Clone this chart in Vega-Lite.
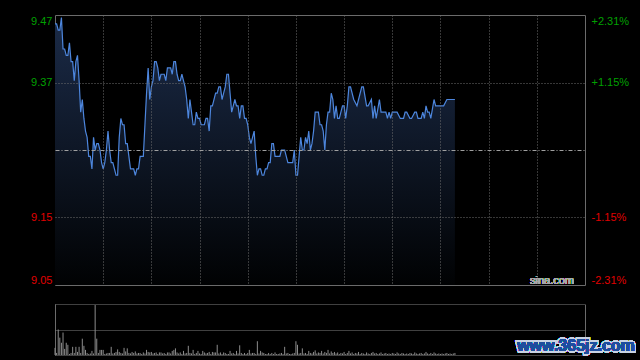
{
  "$schema": "https://vega.github.io/schema/vega-lite/v6.json",
  "background": "#000000",
  "padding": {"left": 14, "top": 14, "right": 6, "bottom": 5},
  "config": {"view": {"stroke": null}, "font": "Liberation Sans"},
  "spacing": 17,
  "datasets": {
    "price": [
      {"t":0,"p":9.46},{"t":1,"p":9.46},{"t":2,"p":9.45},{"t":3,"p":9.45},{"t":4,"p":9.47},{"t":5,"p":9.42},{"t":6,"p":9.42},{"t":7,"p":9.41},{"t":8,"p":9.41},{"t":9,"p":9.43},
      {"t":10,"p":9.40},{"t":11,"p":9.40},{"t":12,"p":9.37},{"t":13,"p":9.40},{"t":14,"p":9.41},{"t":15,"p":9.37},{"t":16,"p":9.32},{"t":17,"p":9.34},{"t":18,"p":9.31},{"t":19,"p":9.29},
      {"t":20,"p":9.28},{"t":21,"p":9.25},{"t":22,"p":9.25},{"t":23,"p":9.23},{"t":24,"p":9.28},{"t":25,"p":9.26},{"t":26,"p":9.27},{"t":27,"p":9.27},{"t":28,"p":9.26},{"t":29,"p":9.24},
      {"t":30,"p":9.23},{"t":31,"p":9.24},{"t":32,"p":9.26},{"t":33,"p":9.29},{"t":34,"p":9.26},{"t":35,"p":9.24},{"t":36,"p":9.24},{"t":37,"p":9.23},{"t":38,"p":9.22},{"t":39,"p":9.22},
      {"t":40,"p":9.28},{"t":41,"p":9.31},{"t":42,"p":9.30},{"t":43,"p":9.30},{"t":44,"p":9.27},{"t":45,"p":9.27},{"t":46,"p":9.25},{"t":47,"p":9.23},{"t":48,"p":9.23},{"t":49,"p":9.23},
      {"t":50,"p":9.22},{"t":51,"p":9.23},{"t":52,"p":9.23},{"t":53,"p":9.25},{"t":55,"p":9.25},{"t":56,"p":9.30},{"t":57,"p":9.35},{"t":58,"p":9.39},{"t":59,"p":9.34},
      {"t":60,"p":9.36},{"t":61,"p":9.37},{"t":62,"p":9.40},{"t":63,"p":9.40},{"t":64,"p":9.39},{"t":65,"p":9.37},{"t":66,"p":9.38},{"t":68,"p":9.38},{"t":69,"p":9.37},
      {"t":70,"p":9.39},{"t":72,"p":9.39},{"t":73,"p":9.38},{"t":74,"p":9.40},{"t":75,"p":9.40},{"t":76,"p":9.38},{"t":77,"p":9.37},{"t":78,"p":9.37},{"t":79,"p":9.38},
      {"t":80,"p":9.37},{"t":81,"p":9.36},{"t":82,"p":9.34},{"t":83,"p":9.31},{"t":84,"p":9.34},{"t":85,"p":9.32},{"t":86,"p":9.30},{"t":87,"p":9.30},{"t":88,"p":9.32},{"t":89,"p":9.31},
      {"t":90,"p":9.31},{"t":91,"p":9.30},{"t":93,"p":9.30},{"t":94,"p":9.31},{"t":95,"p":9.31},{"t":96,"p":9.29},{"t":97,"p":9.33},{"t":98,"p":9.33},
      {"t":100,"p":9.35},{"t":101,"p":9.35},{"t":102,"p":9.36},{"t":103,"p":9.36},{"t":104,"p":9.34},{"t":105,"p":9.35},{"t":106,"p":9.36},{"t":107,"p":9.38},{"t":108,"p":9.38},{"t":109,"p":9.35},
      {"t":110,"p":9.32},{"t":111,"p":9.33},{"t":112,"p":9.34},{"t":113,"p":9.33},{"t":114,"p":9.33},{"t":115,"p":9.31},{"t":116,"p":9.33},{"t":117,"p":9.33},{"t":118,"p":9.31},{"t":119,"p":9.31},
      {"t":120,"p":9.30},{"t":121,"p":9.28},{"t":122,"p":9.27},{"t":124,"p":9.29},{"t":125,"p":9.25},{"t":126,"p":9.22},{"t":127,"p":9.23},{"t":128,"p":9.23},{"t":129,"p":9.22},
      {"t":130,"p":9.22},{"t":131,"p":9.23},{"t":132,"p":9.23},{"t":133,"p":9.24},{"t":134,"p":9.24},{"t":135,"p":9.27},{"t":136,"p":9.27},{"t":137,"p":9.25},{"t":139,"p":9.25},
      {"t":140,"p":9.25},{"t":141,"p":9.26},{"t":143,"p":9.26},{"t":144,"p":9.25},{"t":145,"p":9.24},{"t":147,"p":9.24},{"t":148,"p":9.24},{"t":149,"p":9.26},
      {"t":150,"p":9.22},{"t":151,"p":9.22},{"t":152,"p":9.25},{"t":153,"p":9.28},{"t":154,"p":9.26},{"t":155,"p":9.26},{"t":156,"p":9.28},{"t":157,"p":9.27},{"t":158,"p":9.29},{"t":159,"p":9.26},
      {"t":160,"p":9.27},{"t":161,"p":9.29},{"t":162,"p":9.32},{"t":164,"p":9.32},{"t":165,"p":9.30},{"t":166,"p":9.30},{"t":167,"p":9.29},{"t":168,"p":9.26},{"t":169,"p":9.30},
      {"t":170,"p":9.32},{"t":171,"p":9.32},{"t":172,"p":9.35},{"t":173,"p":9.34},{"t":174,"p":9.31},{"t":175,"p":9.33},{"t":176,"p":9.31},{"t":177,"p":9.31},{"t":178,"p":9.32},{"t":179,"p":9.33},
      {"t":180,"p":9.33},{"t":181,"p":9.31},{"t":182,"p":9.33},{"t":183,"p":9.36},{"t":184,"p":9.36},{"t":185,"p":9.35},{"t":186,"p":9.34},{"t":188,"p":9.33},{"t":189,"p":9.34},
      {"t":191,"p":9.36},{"t":192,"p":9.36},{"t":194,"p":9.33},{"t":195,"p":9.33},{"t":197,"p":9.34},{"t":198,"p":9.31},{"t":199,"p":9.33},
      {"t":200,"p":9.31},{"t":202,"p":9.34},{"t":203,"p":9.32},{"t":205,"p":9.32},{"t":206,"p":9.32},{"t":207,"p":9.31},{"t":208,"p":9.32},{"t":209,"p":9.31},
      {"t":210,"p":9.32},{"t":213,"p":9.32},{"t":215,"p":9.31},{"t":217,"p":9.31},{"t":218,"p":9.32},{"t":219,"p":9.32},
      {"t":221,"p":9.31},{"t":222,"p":9.31},{"t":224,"p":9.32},{"t":225,"p":9.32},{"t":226,"p":9.31},{"t":228,"p":9.31},{"t":229,"p":9.32},
      {"t":230,"p":9.31},{"t":231,"p":9.33},{"t":232,"p":9.32},{"t":233,"p":9.32},{"t":234,"p":9.31},{"t":236,"p":9.34},{"t":237,"p":9.33},
      {"t":242,"p":9.33},{"t":244,"p":9.34},{"t":249,"p":9.34}
    ],
    "vol": [
      {"t":0,"v":14},{"t":1,"v":4},{"t":2,"v":50},{"t":3,"v":34},{"t":4,"v":24},{"t":5,"v":44},{"t":6,"v":12},{"t":7,"v":24},{"t":8,"v":20},{"t":9,"v":2},
      {"t":10,"v":4},{"t":11,"v":16},{"t":12,"v":4},{"t":13,"v":16},{"t":14,"v":6},{"t":15,"v":16},{"t":16,"v":4},{"t":17,"v":32},{"t":18,"v":18},{"t":19,"v":10},
      {"t":20,"v":4},{"t":21,"v":2},{"t":22,"v":3},{"t":23,"v":8},{"t":24,"v":3},{"t":25,"v":98},{"t":26,"v":32},{"t":27,"v":4},{"t":28,"v":10},{"t":29,"v":10},
      {"t":30,"v":10},{"t":31,"v":2},{"t":32,"v":3},{"t":33,"v":4},{"t":34,"v":4},{"t":35,"v":16},{"t":36,"v":3},{"t":37,"v":4},{"t":38,"v":6},{"t":39,"v":11},
      {"t":40,"v":6},{"t":41,"v":4},{"t":42,"v":3},{"t":43,"v":14},{"t":44,"v":7},{"t":45,"v":13},{"t":46,"v":4},{"t":47,"v":3},{"t":48,"v":6},{"t":49,"v":4},
      {"t":50,"v":7},{"t":51,"v":3},{"t":52,"v":4},{"t":53,"v":4},{"t":54,"v":2},{"t":55,"v":5},{"t":56,"v":3},{"t":57,"v":10},{"t":58,"v":6},{"t":59,"v":5},
      {"t":60,"v":6},{"t":61,"v":3},{"t":62,"v":4},{"t":63,"v":5},{"t":64,"v":2},{"t":65,"v":5},{"t":66,"v":5},{"t":67,"v":3},{"t":68,"v":4},{"t":69,"v":2},
      {"t":70,"v":5},{"t":71,"v":5},{"t":72,"v":3},{"t":73,"v":8},{"t":74,"v":10},{"t":75,"v":13},{"t":76,"v":5},{"t":77,"v":3},{"t":78,"v":5},{"t":79,"v":2},
      {"t":80,"v":8},{"t":81,"v":3},{"t":82,"v":4},{"t":83,"v":18},{"t":84,"v":4},{"t":85,"v":3},{"t":86,"v":10},{"t":87,"v":2},{"t":88,"v":4},{"t":89,"v":8},
      {"t":90,"v":3},{"t":91,"v":2},{"t":92,"v":8},{"t":93,"v":5},{"t":94,"v":3},{"t":95,"v":4},{"t":96,"v":6},{"t":97,"v":2},{"t":98,"v":6},{"t":99,"v":5},
      {"t":100,"v":5},{"t":101,"v":20},{"t":102,"v":3},{"t":103,"v":5},{"t":104,"v":2},{"t":105,"v":5},{"t":106,"v":4},{"t":107,"v":2},{"t":108,"v":2},{"t":109,"v":8},
      {"t":110,"v":3},{"t":111,"v":4},{"t":112,"v":2},{"t":113,"v":8},{"t":114,"v":3},{"t":115,"v":19},{"t":116,"v":4},{"t":117,"v":2},{"t":118,"v":4},{"t":119,"v":2},
      {"t":120,"v":4},{"t":121,"v":10},{"t":122,"v":3},{"t":123,"v":4},{"t":124,"v":4},{"t":125,"v":2},{"t":126,"v":27},{"t":127,"v":3},{"t":128,"v":8},{"t":129,"v":5},
      {"t":130,"v":4},{"t":131,"v":2},{"t":132,"v":2},{"t":133,"v":4},{"t":134,"v":2},{"t":135,"v":4},{"t":136,"v":2},{"t":137,"v":5},{"t":138,"v":2},{"t":139,"v":2},
      {"t":140,"v":3},{"t":141,"v":4},{"t":142,"v":2},{"t":143,"v":16},{"t":144,"v":3},{"t":145,"v":4},{"t":146,"v":2},{"t":147,"v":2},{"t":148,"v":3},{"t":149,"v":4},
      {"t":150,"v":27},{"t":151,"v":20},{"t":152,"v":3},{"t":153,"v":4},{"t":154,"v":13},{"t":155,"v":3},{"t":156,"v":4},{"t":157,"v":2},{"t":158,"v":8},{"t":159,"v":4},
      {"t":160,"v":3},{"t":161,"v":6},{"t":162,"v":9},{"t":163,"v":3},{"t":164,"v":5},{"t":165,"v":4},{"t":166,"v":8},{"t":167,"v":3},{"t":168,"v":6},{"t":169,"v":4},
      {"t":170,"v":10},{"t":171,"v":3},{"t":172,"v":7},{"t":173,"v":4},{"t":174,"v":6},{"t":175,"v":3},{"t":176,"v":5},{"t":177,"v":2},{"t":178,"v":4},{"t":179,"v":3},
      {"t":180,"v":6},{"t":181,"v":2},{"t":182,"v":4},{"t":183,"v":8},{"t":184,"v":3},{"t":185,"v":5},{"t":186,"v":2},{"t":187,"v":4},{"t":188,"v":3},{"t":189,"v":6},
      {"t":190,"v":2},{"t":191,"v":4},{"t":192,"v":3},{"t":193,"v":2},{"t":194,"v":5},{"t":195,"v":3},{"t":196,"v":2},{"t":197,"v":4},{"t":198,"v":6},{"t":199,"v":3},
      {"t":200,"v":4},{"t":201,"v":2},{"t":202,"v":3},{"t":203,"v":5},{"t":204,"v":2},{"t":205,"v":3},{"t":206,"v":4},{"t":207,"v":2},{"t":208,"v":3},{"t":209,"v":2},
      {"t":210,"v":4},{"t":211,"v":3},{"t":212,"v":2},{"t":213,"v":5},{"t":214,"v":3},{"t":215,"v":2},{"t":216,"v":4},{"t":217,"v":3},{"t":218,"v":2},{"t":219,"v":3},
      {"t":220,"v":2},{"t":221,"v":4},{"t":222,"v":3},{"t":223,"v":2},{"t":224,"v":5},{"t":225,"v":3},{"t":226,"v":2},{"t":227,"v":3},{"t":228,"v":4},{"t":229,"v":2},
      {"t":230,"v":3},{"t":231,"v":6},{"t":232,"v":3},{"t":233,"v":2},{"t":234,"v":4},{"t":235,"v":2},{"t":236,"v":5},{"t":237,"v":3},{"t":238,"v":2},{"t":239,"v":3},
      {"t":240,"v":2},{"t":241,"v":3},{"t":242,"v":2},{"t":243,"v":3},{"t":244,"v":4},{"t":245,"v":2},{"t":246,"v":3},{"t":247,"v":2},{"t":248,"v":3},{"t":249,"v":4}
    ]
  },
  "vconcat": [
    {
      "width": 530,
      "height": 270,
      "view": {"stroke": "#6b6b6b", "strokeWidth": 1},
      "data": {"name": "price"},
      "layer": [
        {
          "mark": {
            "type": "area",
            "fill": {"gradient": "linear", "x1": 0, "y1": 0, "x2": 0, "y2": 1,
              "stops": [{"offset": 0, "color": "#1b2b48"}, {"offset": 1, "color": "#010203"}]}
          },
          "encoding": {
            "x": {"field": "t", "type": "quantitative", "scale": {"domain": [0, 330], "nice": false, "zero": false},
              "axis": {"values": [30, 60, 90, 120, 150, 180, 210, 240, 270, 300], "grid": true, "gridColor": "#6e6e6e", "gridDash": [1, 2],
                "labels": false, "ticks": false, "domain": false, "title": null, "minExtent": 0, "maxExtent": 0, "zindex": 1}},
            "y": {"field": "p", "type": "quantitative", "scale": {"domain": [9.046094, 9.473906], "nice": false, "zero": false},
              "axis": {"orient": "left", "values": [9.046094, 9.15351, 9.26, 9.36649, 9.473906],
                "labelExpr": "abs(datum.value-9.26)<0.001 ? '' : format(datum.value,'.2f')",
                "labelColor": {"condition": {"test": "datum.value>9.26", "value": "#00a000"}, "value": "#e00000"},
                "labelFlush": true, "labelFontSize": 11, "labelFont": "Liberation Sans", "labelPadding": 3,
                "ticks": false, "tickSize": 0, "domain": false, "grid": true, "zindex": 1,
                "gridColor": {"condition": {"test": "abs(datum.value-9.26)<0.001", "value": "#a0a0a0"}, "value": "#6e6e6e"},
                "gridDash": {"condition": {"test": "abs(datum.value-9.26)<0.001", "value": [4, 2, 1, 2]}, "value": [1, 2]},
                "gridOpacity": {"condition": {"test": "datum.value<9.1 || datum.value>9.42", "value": 0}, "value": 1},
                "title": null, "minExtent": 40, "maxExtent": 40}},
            "y2": {"datum": 9.046094}
          }
        },
        {
          "mark": {"type": "line", "color": "#4d86dd", "strokeWidth": 1.2},
          "encoding": {
            "x": {"field": "t", "type": "quantitative",
              "axis": {"values": [30, 60, 90, 120, 150, 180, 210, 240, 270, 300], "grid": true, "gridColor": "#6e6e6e", "gridDash": [1, 2],
                "labels": false, "ticks": false, "domain": false, "title": null, "minExtent": 0, "maxExtent": 0, "zindex": 1}},
            "y": {"field": "p", "type": "quantitative",
              "axis": {"orient": "right", "values": [9.046094, 9.15351, 9.36649, 9.473906],
                "labelExpr": "(datum.value>9.26?'+':'-') + format(abs(datum.value/9.26-1),'.2%')",
                "labelColor": {"condition": {"test": "datum.value>9.26", "value": "#00a000"}, "value": "#e00000"},
                "labelFlush": true, "labelFontSize": 11, "labelFont": "Liberation Sans", "labelPadding": 6,
                "ticks": false, "tickSize": 0, "domain": false, "grid": false, "title": null, "minExtent": 50, "maxExtent": 50}}
          }
        },
        {
          "mark": {"type": "text", "text": "sina.com", "font": "Liberation Sans", "fontSize": 11, "color": "#a8a8a8", "align": "right", "baseline": "alphabetic", "dx": -11, "dy": -1},
          "encoding": {
            "x": {"datum": 330, "type": "quantitative",
              "axis": {"values": [30, 60, 90, 120, 150, 180, 210, 240, 270, 300], "grid": true, "gridColor": "#6e6e6e", "gridDash": [1, 2],
                "labels": false, "ticks": false, "domain": false, "title": null, "minExtent": 0, "maxExtent": 0, "zindex": 1}},
            "y": {"datum": 9.046094, "type": "quantitative", "axis": null}
          }
        }
      ],
      "resolve": {"axis": {"y": "independent"}}
    },
    {
      "width": 530,
      "height": 51,
      "data": {"name": "vol"},
      "layer": [
        {
          "mark": {"type": "rule", "color": "#8c8c8c", "strokeWidth": 1},
          "encoding": {
            "x": {"field": "t", "type": "quantitative", "scale": {"domain": [0, 330], "nice": false, "zero": false},
              "axis": {"values": [0, 330], "grid": true, "gridColor": "#6b6b6b", "labels": false, "ticks": false, "domain": false, "title": null, "minExtent": 0, "maxExtent": 0}},
            "y": {"field": "v", "type": "quantitative", "scale": {"domain": [0, 100], "nice": false},
              "axis": {"orient": "left", "values": [0, 50, 100], "grid": true, "gridColor": "#808080", "gridDash": [1, 1],
                "labels": false, "ticks": false, "domain": false, "title": null, "minExtent": 40, "maxExtent": 40}},
            "y2": {"datum": 0}
          }
        },
        {
          "mark": {"type": "text", "text": "www.365jz.com", "font": "Liberation Sans", "fontSize": 16, "fontWeight": "bold", "fill": "#c9d3e4", "stroke": "#c9d3e4", "strokeWidth": 3, "align": "center", "baseline": "alphabetic", "dx": -9, "dy": -4},
          "encoding": {
            "x": {"datum": 330, "type": "quantitative",
              "axis": {"values": [0, 330], "grid": true, "gridColor": "#6b6b6b", "labels": false, "ticks": false, "domain": false, "title": null, "minExtent": 0, "maxExtent": 0}},
            "y": {"datum": 0, "type": "quantitative",
              "axis": {"orient": "left", "values": [0, 50, 100], "grid": true, "gridColor": "#808080", "gridDash": [1, 1],
                "labels": false, "ticks": false, "domain": false, "title": null, "minExtent": 40, "maxExtent": 40}}
          }
        },
        {
          "mark": {"type": "text", "text": "www.365jz.com", "font": "Liberation Sans", "fontSize": 16, "fontWeight": "bold", "fill": "#1d4e9e", "align": "center", "baseline": "alphabetic", "dx": -9, "dy": -4},
          "encoding": {
            "x": {"datum": 330, "type": "quantitative",
              "axis": {"values": [0, 330], "grid": true, "gridColor": "#6b6b6b", "labels": false, "ticks": false, "domain": false, "title": null, "minExtent": 0, "maxExtent": 0}},
            "y": {"datum": 0, "type": "quantitative",
              "axis": {"orient": "left", "values": [0, 50, 100], "grid": true, "gridColor": "#808080", "gridDash": [1, 1],
                "labels": false, "ticks": false, "domain": false, "title": null, "minExtent": 40, "maxExtent": 40}}
          }
        }
      ]
    }
  ]
}
